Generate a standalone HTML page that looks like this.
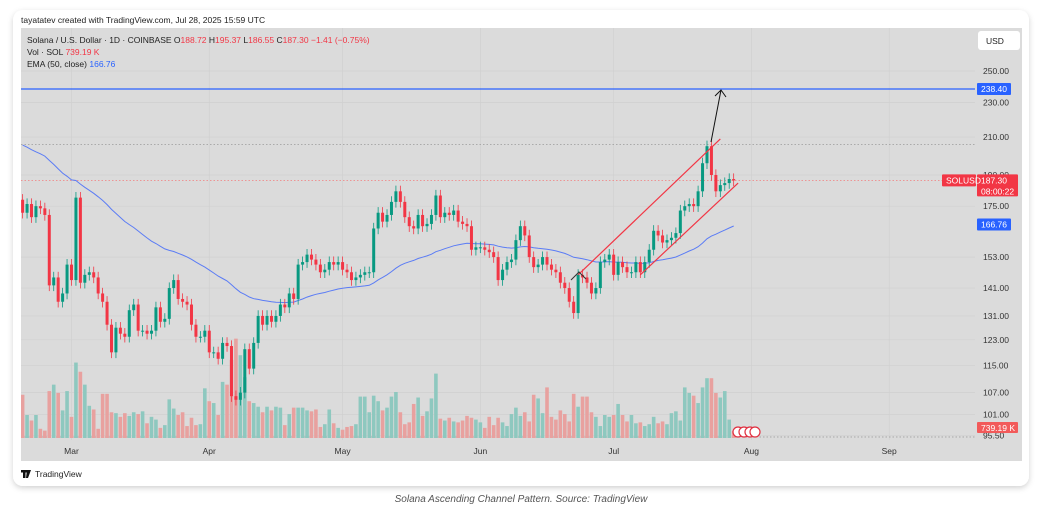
<!DOCTYPE html>
<html><head><meta charset="utf-8">
<style>
html,body{margin:0;padding:0;background:#fff;width:1045px;height:508px;overflow:hidden;font-family:"Liberation Sans",sans-serif;}
svg text{font-family:"Liberation Sans",sans-serif;}
</style></head>
<body>
<svg id="chart" width="1045" height="508" viewBox="0 0 1045 508" xmlns="http://www.w3.org/2000/svg">
  <defs>
    <filter id="sh" x="-5%" y="-5%" width="110%" height="115%"><feDropShadow dx="0" dy="2" stdDeviation="3" flood-color="#000" flood-opacity="0.18"/></filter>
    <clipPath id="plotclip"><rect x="21" y="28" width="954" height="433"/></clipPath>
  </defs>
  <rect x="13" y="10" width="1016" height="476" rx="10" fill="#fff" filter="url(#sh)"/>
  <text x="21" y="23" font-size="8.5" fill="#222">tayatatev created with TradingView.com, Jul 28, 2025 15:59 UTC</text>
  <rect x="21" y="28" width="1001" height="433" fill="#dbdbdb"/>
  <g id="grid"></g>
  <g clip-path="url(#plotclip)">
  <g id="lines"></g>
  <g id="vols"></g>
  <g id="candles"></g>
  <g id="draw"></g>
  </g>
  <g id="axis"></g>
  <g id="taxis"></g>
  <g font-size="8.5">
    <text x="27" y="43" fill="#222">Solana / U.S. Dollar · 1D · COINBASE  O<tspan fill="#f23645">188.72</tspan>  H<tspan fill="#f23645">195.37</tspan>  L<tspan fill="#f23645">186.55</tspan>  C<tspan fill="#f23645">187.30  −1.41 (−0.75%)</tspan></text>
    <text x="27" y="55" fill="#222">Vol · SOL  <tspan fill="#f23645">739.19 K</tspan></text>
    <text x="27" y="67" fill="#222">EMA (50, close)  <tspan fill="#2962ff">166.76</tspan></text>
  </g>
  <rect x="978" y="31" width="42" height="19" rx="3" fill="#fff"/>
  <text x="986" y="44" font-size="8.5" fill="#222">USD</text>
  <g>
    <rect x="21" y="470" width="6" height="2.5" fill="#111"/><rect x="23" y="470" width="2.5" height="8" fill="#111"/>
    <path d="M27 470 h4 l-3 8 h-2 z" fill="#111"/>
    <text x="35" y="477" font-size="8.5" fill="#222">TradingView</text>
  </g>
  <text x="521" y="502" font-size="10" font-style="italic" fill="#555" text-anchor="middle">Solana Ascending Channel Pattern. Source: TradingView</text>
</svg>
<script>
const NS="http://www.w3.org/2000/svg";
const startDay=-11; // days relative to Mar 1
const closes=[172,176,170,175,174,171,142,145,136,139,150,144,179,143,146,147,145,139,136,128,119,127,125,124,133,135,126,126,125,126,134,129,130,141,144,137,136,135,128,124,124,126,119,119,117,122,121,106,105,107,120,114,122,131,128,131,129,131,135,134,139,137,150,151,154,152,150,147,148,151,150,151,148,147,144,145,146,147,147,165,172,168,171,177,182,177,170,166,165,171,166,167,171,180,170,172,171,173,168,167,166,156,157,157,156,155,153,144,148,151,152,160,166,162,153,149,150,153,150,148,147,143,141,136,132,146,145,143,139,141,151,152,154,146,151,149,147,147,151,147,151,156,164,162,159,160,161,163,173,175,176,175,182,196,205,190,182,185,186,188,187.3];
const firstOpen=178;
const vols=[4.7,2.5,1.9,2.5,1.0,0.8,5.1,5.8,4.9,3.0,5.1,2.3,8.2,7.2,5.8,3.5,3.1,1.0,4.8,4.8,2.8,2.7,2.3,2.7,2.4,2.8,2.6,2.9,1.6,2.3,2.0,1.1,1.4,4.2,3.2,2.5,2.8,1.3,2.2,1.4,1.5,5.4,4.0,3.8,2.5,6.1,5.8,8.5,10.8,9.0,6.6,4.0,3.8,3.4,2.8,3.4,3.0,3.4,3.3,1.4,2.6,3.3,3.3,3.3,3.0,2.9,3.1,1.2,1.5,3.1,1.6,1.1,0.9,1.2,1.3,1.5,4.5,4.5,2.8,4.6,4.0,3.0,3.3,4.5,5.0,2.8,1.5,1.7,3.7,4.4,2.4,2.9,4.3,7.0,2.1,1.9,2.2,1.8,1.7,1.9,2.4,2.2,2.0,1.7,1.1,2.3,1.4,2.2,1.7,1.3,2.6,3.3,2.4,2.8,1.8,4.7,4.3,2.7,5.5,2.3,2.0,3.0,2.6,1.8,4.8,3.4,4.5,4.5,2.8,2.3,1.3,2.5,2.3,2.5,3.7,2.5,1.8,2.5,1.6,1.7,1.3,1.5,2.3,1.6,1.8,1.5,2.7,2.9,1.9,5.5,4.9,4.6,3.8,5.5,6.5,6.5,4.9,4.4,5.1,2.0,0.74];
const priceTicks=[250,230,210,190,175,153,141,131,123,115,107,101,95.5];
const months=["Mar","Apr","May","Jun","Jul","Aug","Sep"];
const monthDays=[0,31,61,92,122,153,184];
const emaSeed=207, emaPeriod=50;
const resistance=238.40, lastPrice=187.30, emaLast=166.76, peakLevel=206;
const upperChannel=[[114,146],[146,209]];
const lowerChannel=[[128,146],[150,186]];

function yP(p){return 71+(Math.log(250)-Math.log(p))*379;}
function xD(d){return 71.5+d*4.444;}
function yV(v){return 438-v*9.2;}
function mk(tag,attrs,parent){const e=document.createElementNS(NS,tag);for(const k in attrs)e.setAttribute(k,attrs[k]);parent.appendChild(e);return e;}

const grid=document.getElementById('grid');
priceTicks.forEach(p=>{const l=mk('line',{x1:21,x2:975,y1:yP(p),y2:yP(p),stroke:'#d0d0d0','stroke-width':0.7},grid);

});
monthDays.forEach(d=>{const l=mk('line',{x1:xD(d),x2:xD(d),y1:28,y2:440,stroke:'#d0d0d0','stroke-width':0.7},grid);

});

const lines=document.getElementById('lines');
let e=mk('line',{x1:21,x2:975,y1:yP(peakLevel),y2:yP(peakLevel),stroke:'#999','stroke-width':0.8,'stroke-dasharray':'1.5 2'},lines);


e=mk('line',{x1:21,x2:975,y1:yP(lastPrice),y2:yP(lastPrice),stroke:'#f08a8a','stroke-width':0.8,'stroke-dasharray':'1.5 2'},lines);


e=mk('line',{x1:21,x2:975,y1:437,y2:437,stroke:'#999','stroke-width':0.8,'stroke-dasharray':'1.5 2'},lines);


e=mk('line',{x1:21,x2:976,y1:yP(resistance),y2:yP(resistance),stroke:'#2962ff','stroke-width':1.2},lines);



const vg=document.getElementById('vols'), cg=document.getElementById('candles');
let ema=emaSeed; const emaPts=[];
closes.forEach((c,i)=>{
  const o=i===0?firstOpen:closes[i-1];
  const up=c>=o; const x=xD(startDay+i);
  const hi=Math.max(o,c)*1.015, lo=Math.min(o,c)*0.985;
  const vb=mk('rect',{x:x-1.8,y:yV(vols[i]),width:3.6,height:438-yV(vols[i]),fill:up?'#8ec8bf':'#e8a19f'},vg);
  
  
  const col=up?'#089981':'#f23645';
  const w=mk('line',{x1:x,x2:x,y1:yP(hi),y2:yP(lo),stroke:col,'stroke-width':0.8},cg);
  
  
  const top=yP(Math.max(o,c)), bot=yP(Math.min(o,c));
  const b=mk('rect',{x:x-1.5,y:top,width:3,height:Math.max(1,bot-top),fill:col},cg);
  
  
  ema=ema+(c-ema)*2/(emaPeriod+1); emaPts.push(x.toFixed(1)+','+yP(ema).toFixed(1));
});
e=mk('polyline',{points:emaPts.join(' '),fill:'none',stroke:'#5b7cf5','stroke-width':1},lines);



const dg=document.getElementById('draw');
e=mk('line',{x1:xD(upperChannel[0][0]),y1:yP(upperChannel[0][1]),x2:xD(upperChannel[1][0]),y2:yP(upperChannel[1][1]),stroke:'#f23645','stroke-width':1.2},dg);


e=mk('line',{x1:xD(lowerChannel[0][0]),y1:yP(lowerChannel[0][1]),x2:xD(lowerChannel[1][0]),y2:yP(lowerChannel[1][1]),stroke:'#f23645','stroke-width':1.2},dg);


e=mk('path',{d:'M711 142 L721 90 M715 96 L721 90 L726 97',fill:'none',stroke:'#111','stroke-width':1},dg);


e=mk('path',{d:'M571 280 L579 272 L586 279',fill:'none',stroke:'#333','stroke-width':1},dg);


[738,744,750,755].forEach(cx=>{const c=mk('circle',{cx:cx,cy:432,r:5,fill:'#fff',stroke:'#e03040','stroke-width':1.2},dg);

});

const ax=document.getElementById('axis');
priceTicks.forEach(p=>{const t=mk('text',{x:983,y:yP(p)+3,'font-size':8.5,fill:'#333'},ax);t.textContent=p.toFixed(2);

});
function tag(y,h,fill,txt,name,x=977,w=34){const g=mk('g',{},ax);


mk('rect',{x:x,y:y,width:w,height:h,fill:fill,rx:1},g);
txt.forEach((s,i)=>{const t=mk('text',{x:x+4,y:y+9+i*11,'font-size':8.5,fill:'#fff'},g);t.textContent=s;});}
tag(yP(resistance)-6,12,'#2962ff',[resistance.toFixed(2)],'resistance-price-tag');
tag(yP(lastPrice)-6,22,'#f23645',[lastPrice.toFixed(2),'08:00:22'],'last-price-tag',977,41);
tag(yP(lastPrice)-6,12,'#f23645',['SOLUSD'],'symbol-tag',942,34);
tag(yP(emaLast)-6,12,'#2962ff',[emaLast.toFixed(2)],'ema-price-tag');
tag(422,11,'#f25a5a',['739.19 K'],'volume-tag',977,41);

const tx=document.getElementById('taxis');
months.forEach((m,i)=>{const t=mk('text',{x:xD(monthDays[i]),y:454,'font-size':8.5,fill:'#333','text-anchor':'middle'},tx);t.textContent=m;

});
</script>
</body></html>
